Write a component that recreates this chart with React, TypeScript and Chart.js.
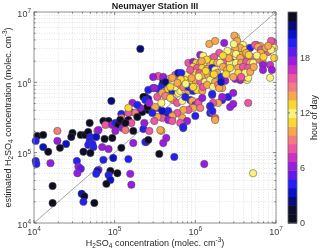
import { useEffect, useRef } from 'react';
import { Chart, registerables } from 'chart.js';
Chart.register(...registerables);

const chartTitle = 'Neumayer Station III';
const xTitle = 'H_2SO_4 concentration (molec. cm^{-3})';
const yTitle = 'estimated H_2SO_4 concentration (molec. cm^{-3})';
const cbTitle = 'hour of day';

const axisMin = 1e4;
const axisMax = 1e7;
const decadeTicks = [1e4, 1e5, 1e6, 1e7];
const decadeLabels = ['10^4', '10^5', '10^6', '10^7'];
const minorMultipliers = [2, 3, 4, 5, 6, 7, 8, 9];
const cbTicks = [0, 6, 12, 18];
const cbLabels = ['0', '6', '12', '18'];
const hourMin = 0;
const hourMax = 23;
const oneToOne = [1e4, 1e7];

const hourPalette = [
  '#0d0d22', '#0d0d30', '#0a0a78', '#0a12c8', '#2420f5', '#6018ee',
  '#9a1ce0', '#cc30c4', '#ee56a4', '#f47c7c', '#f8a84c', '#f9d830',
  '#fbf27c', '#f9d830', '#f8a84c', '#f47c7c', '#ee56a4', '#cc30c4',
  '#9a1ce0', '#6018ee', '#2420f5', '#0a12c8', '#0a0a78', '#0d0d22',
];

const xVals = [
  4.9e4, 1.1e4, 1.3e4, 1.95e4, 3.0e4, 2.9e4, 3.8e4, 4.3e4, 4.7e4, 5.0e4,
  6.1e4, 5.9e4, 1.05e4, 1.95e4, 2.5e4, 4.9e4, 4.7e4, 5.45e4, 1.3e4, 1.5e4,
  2.1e4, 4.1e4, 5.0e4, 1.05e4, 1.07e4, 1.6e4, 3.4e4, 3.55e4, 3.8e4, 3.45e4,
  6.3e4, 1.7e4, 3.9e4, 4.2e4, 4.1e4, 5.6e4, 1.7e4, 7.0e4, 8.4e4, 1.21e5,
  1.7e5, 7.25e4, 9.6e4, 1.48e5, 6.1e4, 5.9e4, 8.85e4, 1.08e5, 8.4e4, 8.85e4,
  7.9e4, 1.56e5, 1.61e5, 5.3e4, 2.27e5, 2.47e5, 3.79e5, 3.57e5, 4.0e5, 4.36e5,
  5.48e5, 7.08e5, 1.29e6, 5.2e6, 2.69e5, 2.08e5, 9.1e4, 1.66e5, 1.21e5, 3.47e5,
  3.0e5, 3.47e5, 2.4e5, 2.61e5, 1.56e5, 1.8e5, 2.2e5, 2.61e5, 3.38e5, 1.48e5,
  1.21e5, 1.32e5, 1.48e5, 1.61e5, 1.91e5, 7.25e4, 8.4e4, 7.7e4, 9.35e4, 1.02e5,
  1.11e5, 1.25e5, 1.36e5, 1.02e5, 6.3e4, 7.5e4, 9.35e4, 1.7e5, 2.33e5, 2.4e5,
  2.61e5, 3.68e5, 3.89e5, 4.0e5, 4.75e5, 5.64e5, 6.14e5, 2.61e5, 3.1e5, 4.49e5,
  3.38e5, 2.27e5, 2.4e5, 2.54e5, 2.69e5, 3.19e5, 3.79e5, 5.33e5, 5.18e5, 7.08e5,
  8.65e5, 9.16e5, 1.09e6, 4.49e5, 5.33e5, 6.88e5, 1.48e5, 3.89e5, 1.17e5, 1.36e5,
  1.53e6, 2.15e6, 2.15e6, 2.55e6, 2.95e6, 3.6e6, 4.39e6, 9.2e6, 8.45e6, 8.9e6,
  9.5e6, 9.5e6, 2.7e6, 4.52e6, 1.92e6, 1.53e6, 1.62e6, 1.76e6, 3.89e5, 4.62e5,
  5.18e5, 5.64e5, 6.14e5, 6.5e5, 7.5e5, 8.2e5, 9.4e5, 1.05e6, 1.22e6, 4.24e5,
  4.9e5, 5.97e5, 6.88e5, 7.5e5, 9.16e5, 1.0e6, 1.09e6, 1.15e6, 9.4e5, 1.62e6,
  1.22e6, 1.66e6, 1.53e6, 1.62e6, 8.2e5, 7.08e5, 4.62e5, 3.89e5, 5.97e5, 5.18e5,
  1.0e6, 7.9e5, 1.76e6, 4.62e5, 6.5e5, 5.18e5, 7.08e5, 1.49e6, 1.76e6, 1.98e6,
  1.15e6, 1.25e6, 1.57e6, 1.71e6, 8.2e5, 9.4e5, 1.03e6, 1.15e6, 1.32e6, 1.53e6,
  1.66e6, 1.87e6, 9.4e5, 1.05e6, 1.22e6, 1.4e6, 1.62e6, 1.76e6, 8.9e5, 1.0e6,
  1.12e6, 1.25e6, 1.44e6, 1.66e6, 1.87e6, 7.9e5, 6.69e5, 7.5e5, 8.65e5, 1.0e6,
  1.15e6, 1.32e6, 1.53e6, 1.76e6, 4.0e5, 4.24e5, 5.18e5, 5.64e5, 6.5e5, 4.9e5,
  7.08e5, 8.2e5, 9.4e5, 1.25e6, 1.4e6, 1.66e6, 1.92e6, 8.65e5, 2.28e6, 3.2e6,
  3.05e6, 3.3e6, 2.86e6, 3.6e6, 3.4e6, 3.9e6, 4.39e6, 4.66e6, 5.7e6, 6.35e6,
  7.3e6, 7.95e6, 3.2e6, 3.7e6, 4.39e6, 5.2e6, 6.2e6, 6.9e6, 3.5e6, 2.86e6,
  4.39e6, 3.5e6, 4.15e6, 4.8e6, 3.6e6, 3.12e6, 4.15e6, 4.52e6, 2.35e6, 2.95e6,
  1.98e6, 2.15e6, 1.62e6, 8.7e6, 3.9e6, 3.6e6, 3.12e6, 4.15e6, 4.8e6, 5.5e6,
  6.0e6, 6.5e6, 7.5e6, 8.7e6, 6.5e6, 2.78e6, 3.2e6, 4.27e6, 4.92e6, 3.6e6,
  2.35e6, 2.7e6, 3.2e6, 3.7e6, 4.27e6, 4.8e6, 5.2e6, 2.03e6, 2.2e6, 2.48e6,
  3.4e6, 3.9e6, 4.52e6, 3.4e6, 4.15e6, 4.8e6, 2.09e6, 2.95e6, 3.7e6, 6.9e6,
  6.9e6, 8.45e6, 2.09e6, 3.0e5, 2.08e5, 1.91e5, 3.38e5, 2.93e5, 3.1e5, 1.38e6,
  2.5e6, 2.6e6, 1.1e6, 1.35e6, 2.4e6, 5.8e6, 7.0e6, 8.0e6, 6.6e5, 9.0e5,
  3.0e6, 1.2e6, 2.2e6, 5.3e6, 4.6e6, 1.7e6, 7.6e5, 6.0e5, 2.7e6,
];

const yVals = [
  2.64e5, 1.73e5, 1.79e5, 2.04e5, 1.9e5, 1.67e5, 1.79e5, 1.79e5, 1.97e5, 1.67e5,
  2.04e5, 1.67e5, 1.47e5, 1.47e5, 1.33e5, 1.47e5, 1.29e5, 1.2e5, 1.2e5, 1.03e5,
  1.17e5, 1.03e5, 9.9e4, 7.6e4, 6.9e4, 7.1e4, 7.6e4, 6.3e4, 5.9e4, 5.1e4,
  5.7e4, 3.36e4, 2.6e4, 2.4e4, 2.0e4, 1.92e4, 1.92e4, 1.2e5, 1.13e5, 1.17e5,
  1.37e5, 7.9e4, 8.4e4, 8.1e4, 5.5e4, 5.0e4, 5.5e4, 5.1e4, 4.8e4, 4.1e4,
  3.6e4, 5.0e4, 3.5e4, 1.33e5, 2.17e5, 1.42e5, 2.04e5, 9.6e4, 1.37e5, 1.62e5,
  8.7e4, 2.24e5, 6.9e4, 5.1e4, 2.04e5, 2.99e6, 5.44e5, 5.1e5, 3.55e5, 1.23e6,
  8.3e5, 8.05e5, 6.2e5, 5.8e5, 3.79e5, 3.67e5, 3.79e5, 4.05e5, 4.33e5, 3.67e5,
  3.12e5, 2.73e5, 2.92e5, 2.64e5, 3.22e5, 2.82e5, 2.82e5, 2.48e5, 2.48e5, 2.64e5,
  2.48e5, 2.24e5, 2.1e5, 2.04e5, 2.1e5, 1.57e5, 1.62e5, 2.04e5, 2.64e5, 1.42e5,
  1.52e5, 2.1e5, 9.2e5, 1.05e6, 1.12e6, 1.27e6, 1.36e6, 7.8e5, 8.3e5, 7.8e5,
  6.2e5, 6.2e5, 5.6e5, 4.47e5, 5.1e5, 4.47e5, 5.1e5, 5.6e5, 7.3e5, 7.8e5,
  5.6e5, 4.47e5, 5.26e5, 3.67e5, 3.44e5, 3.12e5, 4.33e5, 3.12e5, 2.92e5, 2.64e5,
  4.47e5, 8.3e5, 5.6e5, 6.2e5, 7.07e5, 1.08e6, 1.08e6, 3.76e6, 1.77e6, 1.5e6,
  2.22e6, 3.09e6, 4.47e5, 5.1e5, 5.1e5, 3.67e5, 3.79e5, 3.12e5, 7.07e5, 8.05e5,
  7.55e5, 7.8e5, 7.07e5, 7.55e5, 7.8e5, 7.55e5, 7.55e5, 7.8e5, 7.55e5, 6.4e5,
  6.0e5, 5.1e5, 5.44e5, 6.2e5, 5.44e5, 4.78e5, 5.1e5, 4.33e5, 4.33e5, 6.6e5,
  6.0e5, 5.1e5, 4.62e5, 3.92e5, 4.05e5, 4.05e5, 3.92e5, 3.92e5, 3.67e5, 3.3e5,
  3.33e5, 2.82e5, 2.92e5, 2.92e5, 2.64e5, 2.82e5, 2.32e5, 3.52e6, 3.88e6, 2.62e6,
  2.45e6, 2.38e6, 2.15e6, 2.3e6, 1.89e6, 1.95e6, 1.89e6, 1.89e6, 1.89e6, 1.77e6,
  1.89e6, 1.89e6, 1.66e6, 1.6e6, 1.6e6, 1.55e6, 1.6e6, 1.5e6, 1.41e6, 1.36e6,
  1.36e6, 1.27e6, 1.27e6, 1.23e6, 1.36e6, 1.27e6, 1.36e6, 1.08e6, 1.01e6, 1.08e6,
  1.01e6, 1.01e6, 1.08e6, 1.01e6, 1.19e6, 1.01e6, 1.16e6, 8.6e5, 9.2e5, 8.6e5,
  8.6e5, 8.6e5, 8.6e5, 8.6e5, 9.2e5, 8.6e5, 9.2e5, 1.5e6, 3.63e6, 4.4e6,
  4.6e6, 3.88e6, 2.3e6, 2.89e6, 2.99e6, 2.7e6, 2.8e6, 3.09e6, 3.4e6, 3.3e6,
  2.7e6, 2.7e6, 2.3e6, 2.45e6, 2.3e6, 2.15e6, 2.09e6, 1.89e6, 1.83e6, 1.89e6,
  1.95e6, 1.41e6, 1.5e6, 1.5e6, 1.16e6, 1.12e6, 1.19e6, 1.16e6, 1.05e6, 4.93e5,
  8.3e5, 6.2e5, 6.84e5, 3.88e6, 3.4e6, 3.09e6, 2.99e6, 2.89e6, 3.09e6, 3.4e6,
  3.19e6, 2.89e6, 3.09e6, 2.89e6, 2.62e6, 2.62e6, 2.53e6, 2.62e6, 2.3e6, 2.22e6,
  1.95e6, 1.89e6, 1.89e6, 1.89e6, 1.95e6, 1.89e6, 1.89e6, 1.89e6, 1.66e6, 1.5e6,
  1.6e6, 1.66e6, 1.6e6, 1.36e6, 1.36e6, 1.41e6, 1.19e6, 1.19e6, 1.19e6, 1.77e6,
  1.5e6, 1.16e6, 1.01e6, 1.19e6, 4.33e5, 4.78e5, 3.22e5, 3.67e5, 2.82e5, 2.1e6,
  2.8e6, 2.2e6, 1.2e6, 1.45e6, 1.3e6, 2.4e6, 2.3e6, 3.3e6, 1.1e6, 1.15e6,
  3.5e6, 2.0e6, 2.4e6, 1.65e6, 2.45e6, 1.3e6, 9.5e5, 9.8e5, 1.6e6,
];

const hours = [
  0, 23, 0, 9, 0, 1, 0, 23, 0, 4,
  16, 3, 4, 6, 3, 4, 20, 4, 3, 0,
  0, 1, 0, 4, 4, 6, 4, 6, 5, 6,
  18, 0, 3, 1, 4, 0, 0, 6, 6, 0,
  6, 4, 3, 4, 3, 4, 0, 23, 4, 3,
  0, 18, 6, 20, 4, 16, 14, 0, 6, 18,
  4, 4, 6, 12, 8, 2, 2, 6, 4, 8,
  6, 4, 0, 3, 4, 9, 0, 23, 4, 16,
  9, 14, 0, 16, 0, 0, 1, 8, 6, 4,
  0, 6, 9, 6, 6, 0, 0, 0, 18, 4,
  0, 14, 4, 2, 10, 8, 3, 4, 18, 9,
  16, 0, 4, 0, 6, 14, 12, 9, 13, 11,
  4, 14, 16, 3, 12, 10, 13, 8, 0, 0,
  16, 14, 4, 4, 18, 18, 12, 16, 17, 18,
  13, 12, 18, 16, 14, 4, 14, 16, 14, 13,
  4, 3, 12, 12, 13, 10, 4, 11, 14, 9,
  13, 8, 12, 4, 14, 6, 16, 9, 14, 18,
  6, 16, 4, 4, 16, 14, 4, 3, 16, 10,
  4, 18, 10, 18, 16, 8, 4, 14, 10, 16,
  6, 12, 14, 8, 16, 18, 13, 10, 12, 14,
  11, 10, 13, 8, 13, 14, 4, 12, 9, 13,
  16, 14, 14, 9, 10, 12, 4, 13, 13, 10,
  8, 12, 12, 14, 18, 2, 14, 12, 10, 11,
  9, 4, 13, 16, 14, 12, 9, 16, 6, 12,
  14, 14, 14, 8, 18, 12, 14, 12, 8, 14,
  14, 8, 12, 10, 16, 14, 9, 10, 13, 4,
  12, 13, 10, 12, 16, 6, 8, 12, 18, 18,
  14, 6, 4, 16, 12, 10, 14, 13, 4, 16,
  10, 8, 14, 12, 10, 14, 12, 14, 16, 10,
  8, 12, 12, 14, 8, 10, 12, 12, 14, 14,
  14, 16, 8, 13, 12, 10, 4, 14, 16, 18,
  18, 12, 3, 6, 6, 4, 14, 4, 16, 13,
  12, 14, 12, 11, 13, 12, 13, 14, 13, 14,
  12, 14, 13, 14, 11, 13, 12, 14, 11,
];

const FONT = '"Liberation Sans", "DejaVu Sans", Arial, sans-serif';

type Seg = { t: string; mode: number };
function parseRich(s: string): Seg[] {
  const segs: Seg[] = [];
  let buf = '';
  let i = 0;
  while (i < s.length) {
    const c = s[i];
    if (c === '^' || c === '_') {
      if (buf) { segs.push({ t: buf, mode: 0 }); buf = ''; }
      let t = '';
      if (s[i + 1] === '{') {
        const j = s.indexOf('}', i + 2);
        t = s.slice(i + 2, j);
        i = j + 1;
      } else {
        t = s[i + 1];
        i += 2;
      }
      segs.push({ t, mode: c === '^' ? 1 : -1 });
    } else {
      buf += c;
      i++;
    }
  }
  if (buf) segs.push({ t: buf, mode: 0 });
  return segs;
}

function drawRich(ctx: CanvasRenderingContext2D, s: string, x: number, y: number, size: number,
  align: string, bold: boolean, color: string) {
  const segs = parseRich(s);
  const fontFor = (m: number) => `${bold ? 'bold ' : ''}${m === 0 ? size : Math.round(size * 0.72 * 10) / 10}px ${FONT}`;
  let total = 0;
  const widths = segs.map((sg) => {
    ctx.font = fontFor(sg.mode);
    const w = ctx.measureText(sg.t).width;
    total += w;
    return w;
  });
  let cx = align === 'left' ? x : align === 'center' ? x - total / 2 : x - total;
  ctx.textAlign = 'left';
  ctx.textBaseline = 'alphabetic';
  ctx.fillStyle = color;
  const base = y + size * 0.36;
  segs.forEach((sg, i) => {
    ctx.font = fontFor(sg.mode);
    const dy = sg.mode === 1 ? -size * 0.42 : sg.mode === -1 ? size * 0.24 : 0;
    ctx.fillText(sg.t, cx, base + dy);
    cx += widths[i];
  });
}

const allTicks: number[] = [];
decadeTicks.forEach((d, i) => {
  allTicks.push(d);
  if (i < decadeTicks.length - 1) minorMultipliers.forEach((m) => allTicks.push(d * m));
});

const decorPlugin = {
  id: 'decor',
  afterDraw(chart: any) {
    const ctx: CanvasRenderingContext2D = chart.ctx;
    const a = chart.chartArea;
    const xs = chart.scales.x;
    const ys = chart.scales.y;
    ctx.save();
    const line = (x1: number, y1: number, x2: number, y2: number) => {
      ctx.beginPath(); ctx.moveTo(x1, y1); ctx.lineTo(x2, y2); ctx.stroke();
    };
    ctx.strokeStyle = '#7a7a7a';
    ctx.lineWidth = 0.8;
    ctx.strokeRect(a.left, a.top, a.right - a.left, a.bottom - a.top);
    ctx.strokeStyle = '#555';
    ctx.lineWidth = 0.7;
    allTicks.forEach((v) => {
      const major = decadeTicks.includes(v);
      const L = major ? 3 : 1.6;
      const px = xs.getPixelForValue(v);
      line(px, a.bottom, px, a.bottom - L);
      line(px, a.top, px, a.top + L);
      const py = ys.getPixelForValue(v);
      line(a.left, py, a.left + L, py);
      line(a.right, py, a.right - L, py);
    });
    decadeTicks.forEach((v, i) => {
      drawRich(ctx, decadeLabels[i], xs.getPixelForValue(v), a.bottom + 9, 9, 'center', false, '#404040');
      drawRich(ctx, decadeLabels[i], a.left - 3, ys.getPixelForValue(v) + 1.5, 9, 'right', false, '#404040');
    });
    const cxm = (a.left + a.right) / 2;
    const cym = (a.top + a.bottom) / 2;
    drawRich(ctx, chartTitle, cxm, a.top - 6, 9, 'center', true, '#1a1a1a');
    drawRich(ctx, xTitle, cxm, a.bottom + 20, 9, 'center', false, '#262626');
    ctx.save();
    ctx.translate(8, cym);
    ctx.rotate(-Math.PI / 2);
    drawRich(ctx, yTitle, 0, 0, 9, 'center', false, '#262626');
    ctx.restore();
    const cbL = a.right + 12;
    const cbW = 9;
    const hy = (h: number) => a.bottom - ((h - hourMin) / (hourMax - hourMin)) * (a.bottom - a.top);
    const n = hourPalette.length;
    for (let k = 0; k < n; k++) {
      const y0 = hy(hourMin + (k * (hourMax - hourMin)) / n);
      const y1 = hy(hourMin + ((k + 1) * (hourMax - hourMin)) / n);
      ctx.fillStyle = hourPalette[k];
      ctx.fillRect(cbL, y1, cbW, y0 - y1 + 0.5);
    }
    ctx.strokeStyle = '#666';
    ctx.lineWidth = 0.8;
    ctx.strokeRect(cbL, a.top, cbW, a.bottom - a.top);
    cbTicks.forEach((t, i) => {
      const py = hy(t);
      ctx.strokeStyle = '#555';
      line(cbL + cbW, py, cbL + cbW - 2, py);
      line(cbL, py, cbL + 2, py);
      drawRich(ctx, cbLabels[i], cbL + cbW + 3, py, 9, 'left', false, '#404040');
    });
    ctx.save();
    ctx.translate(cbL + 26, cym);
    ctx.rotate(-Math.PI / 2);
    drawRich(ctx, cbTitle, 0, 0, 9, 'center', false, '#262626');
    ctx.restore();
    ctx.restore();
  },
};

export default function App() {
  const ref = useRef<HTMLCanvasElement | null>(null);
  useEffect(() => {
    if (!ref.current) return;
    const pts = xVals.map((x, i) => ({ x, y: yVals[i] }));
    const colors = hours.map((h) => hourPalette[h]);
    const gridOpts = { color: 'rgba(0,0,0,0.13)', lineWidth: 0.8, drawTicks: false };
    const borderOpts = { display: false, dash: [1, 1.5] };
    const chart = new Chart(ref.current, {
      type: 'scatter',
      data: {
        datasets: [
          {
            type: 'line',
            data: oneToOne.map((v) => ({ x: v, y: v })),
            borderColor: '#9a9a9a',
            borderWidth: 0.9,
            pointRadius: 0,
            order: 2,
          } as any,
          {
            data: pts,
            backgroundColor: colors,
            borderColor: '#4a4a4a',
            borderWidth: 0.5,
            pointRadius: 3.7,
            order: 1,
            clip: false,
          } as any,
        ],
      },
      options: {
        animation: false,
        responsive: false,
        devicePixelRatio: 1,
        events: [],
        layout: { padding: { top: 12, right: 44, left: 0, bottom: 0 } },
        plugins: { legend: { display: false }, tooltip: { enabled: false }, title: { display: false } },
        scales: {
          x: {
            type: 'logarithmic',
            min: axisMin,
            max: axisMax,
            ticks: { display: false },
            grid: gridOpts,
            border: borderOpts,
            afterBuildTicks: (s: any) => { s.ticks = allTicks.map((v) => ({ value: v })); },
            afterFit: (s: any) => { s.height = 29; },
          },
          y: {
            type: 'logarithmic',
            min: axisMin,
            max: axisMax,
            ticks: { display: false },
            grid: gridOpts,
            border: borderOpts,
            afterBuildTicks: (s: any) => { s.ticks = allTicks.map((v) => ({ value: v })); },
            afterFit: (s: any) => { s.width = 34; },
          },
        },
      } as any,
      plugins: [decorPlugin],
    });
    return () => chart.destroy();
  }, []);
  return (
    <div style={{ position: 'absolute', left: 0, top: 0, width: 320, height: 252, background: '#fff' }}>
      <canvas ref={ref} width={320} height={252} style={{ display: 'block', width: 320, height: 252 }} />
    </div>
  );
}
